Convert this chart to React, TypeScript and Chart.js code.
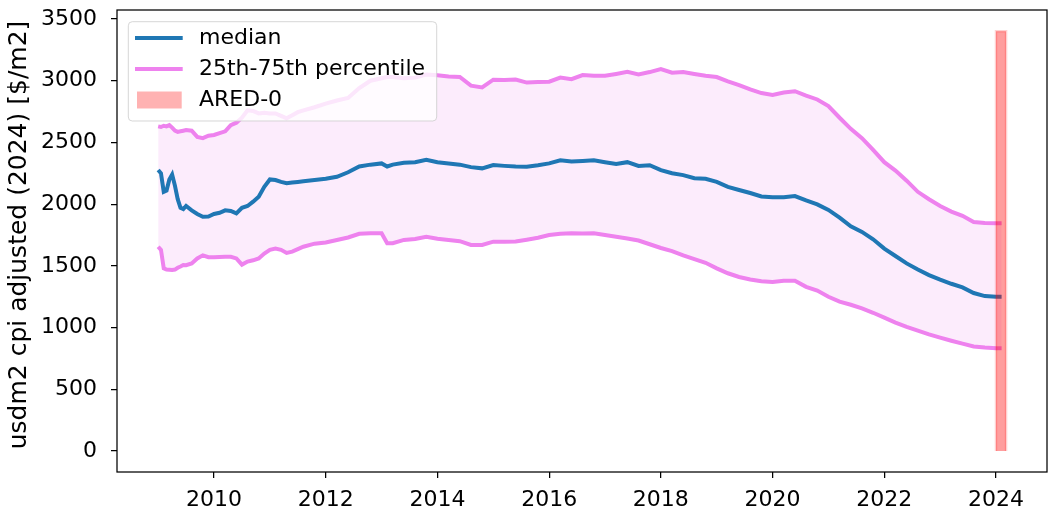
import React, { useEffect, useRef } from 'react';
import { Chart, registerables } from 'chart.js';

Chart.register(...registerables);

const FONT = '"DejaVu Sans", sans-serif';

const years = [
  2009.0, 2009.05, 2009.1, 2009.15, 2009.2, 2009.25, 2009.3, 2009.35, 2009.4, 2009.45,
  2009.5, 2009.6, 2009.7, 2009.8, 2009.9,
  2010.0, 2010.1, 2010.2, 2010.3, 2010.4, 2010.5, 2010.6, 2010.7, 2010.8, 2010.9,
  2011.0, 2011.1, 2011.2, 2011.3, 2011.4, 2011.5, 2011.6, 2011.8,
  2012.0, 2012.2, 2012.4, 2012.6, 2012.8,
  2013.0, 2013.1, 2013.2, 2013.4, 2013.6, 2013.8,
  2014.0, 2014.2, 2014.4, 2014.6, 2014.8,
  2015.0, 2015.2, 2015.4, 2015.6, 2015.8,
  2016.0, 2016.2, 2016.4, 2016.6, 2016.8,
  2017.0, 2017.2, 2017.4, 2017.6, 2017.8,
  2018.0, 2018.2, 2018.4, 2018.6, 2018.8,
  2019.0, 2019.2, 2019.4, 2019.6, 2019.8,
  2020.0, 2020.2, 2020.4, 2020.6, 2020.8,
  2021.0, 2021.2, 2021.4, 2021.6, 2021.8,
  2022.0, 2022.2, 2022.4, 2022.6, 2022.8,
  2023.0, 2023.2, 2023.4, 2023.6, 2023.8,
  2024.0, 2024.1,
];

const median = [
  2277, 2250, 2100, 2110, 2200, 2240, 2150, 2040, 1970, 1960,
  1985, 1950, 1920, 1898, 1900,
  1920, 1930, 1950, 1945, 1925, 1970, 1985, 2020, 2060, 2140,
  2200, 2195, 2180, 2169, 2175, 2180, 2185, 2195,
  2205, 2222, 2258, 2305, 2320,
  2330, 2305, 2320, 2335, 2340, 2360,
  2340, 2330, 2320, 2300, 2290,
  2317, 2310, 2305, 2303, 2315,
  2330, 2355, 2345, 2350, 2355,
  2340, 2325, 2340, 2310, 2315,
  2275, 2250, 2235, 2210, 2205,
  2180, 2140, 2115, 2090, 2062,
  2055, 2055, 2065, 2030, 1998,
  1953, 1890, 1820, 1775, 1715,
  1640, 1580, 1520, 1470, 1425,
  1388, 1355, 1325, 1280, 1255,
  1250, 1250,
];

const p75 = [
  2630, 2625, 2635, 2630, 2640, 2620, 2595, 2585, 2590, 2595,
  2600, 2595, 2545, 2535, 2555,
  2560, 2575, 2590, 2640, 2660, 2700, 2760, 2755, 2735, 2740,
  2735, 2735, 2715, 2695, 2720, 2745, 2760, 2785,
  2815, 2840, 2860, 2940, 3000,
  3020, 3030, 3030, 3020, 3025, 3050,
  3045, 3035, 3030, 2960, 2945,
  3008, 3005, 3010, 2985, 2990,
  2992, 3025, 3012, 3046, 3040,
  3040, 3055, 3072, 3050, 3070,
  3095, 3065, 3070, 3055, 3040,
  3030, 2995, 2965, 2930, 2900,
  2885, 2905, 2915, 2880, 2848,
  2795, 2700, 2610, 2535, 2440,
  2340, 2272, 2190, 2100, 2040,
  1985, 1940, 1905, 1855, 1848,
  1845, 1845,
];

const p25 = [
  1655, 1630, 1480, 1470, 1468, 1466, 1470, 1485, 1495, 1507,
  1505, 1520, 1560, 1585, 1570,
  1570, 1572, 1574, 1574, 1560, 1510, 1535, 1545, 1560, 1600,
  1630, 1640, 1630, 1605, 1615, 1635, 1655, 1680,
  1690, 1710, 1730, 1760, 1765,
  1764, 1683, 1683, 1710, 1718, 1735,
  1720, 1710, 1700, 1670, 1670,
  1696, 1695, 1698, 1712, 1728,
  1750, 1760, 1764, 1762, 1764,
  1750, 1736, 1722, 1705, 1675,
  1645, 1620, 1585, 1555, 1525,
  1480, 1440, 1410, 1390, 1375,
  1370, 1380, 1380, 1330, 1300,
  1250, 1210, 1185, 1155, 1120,
  1080, 1040, 1005, 975, 945,
  918, 893, 870, 847, 838,
  832, 832,
];

const aredStart = 2024.0;
const aredEnd = 2024.18;
const aredTop = 3400;

const xTicks = [2010, 2012, 2014, 2016, 2018, 2020, 2022, 2024];
const yTicks = [0, 500, 1000, 1500, 2000, 2500, 3000, 3500];
const seriesLabels = ['median', '25th-75th percentile', 'ARED-0'];
const yTitle = 'usdm2 cpi adjusted (2024) [$/m2]';

const MEDIAN_COLOR = '#1f77b4';
const PCT_COLOR = '#ee82ee';
const PCT_FILL = 'rgba(238,130,238,0.15)';
const ARED_FILL = 'rgba(255,0,0,0.3)';

const decorPlugin = {
  id: 'decor',
  afterDraw(chart: any) {
    const { ctx, chartArea: a } = chart;
    ctx.save();
    // frame
    ctx.strokeStyle = '#000';
    ctx.lineWidth = 1.25;
    ctx.strokeRect(a.left, a.top, a.right - a.left, a.bottom - a.top);

    // legend
    const bx = a.left + 11.3;
    const by = a.top + 11.7;
    const bw = 308.4;
    const bh = 99.3;
    const r = 4;
    ctx.beginPath();
    ctx.moveTo(bx + r, by);
    ctx.lineTo(bx + bw - r, by);
    ctx.quadraticCurveTo(bx + bw, by, bx + bw, by + r);
    ctx.lineTo(bx + bw, by + bh - r);
    ctx.quadraticCurveTo(bx + bw, by + bh, bx + bw - r, by + bh);
    ctx.lineTo(bx + r, by + bh);
    ctx.quadraticCurveTo(bx, by + bh, bx, by + bh - r);
    ctx.lineTo(bx, by + r);
    ctx.quadraticCurveTo(bx, by, bx + r, by);
    ctx.closePath();
    ctx.fillStyle = 'rgba(255,255,255,0.8)';
    ctx.fill();
    ctx.strokeStyle = 'rgba(204,204,204,0.8)';
    ctx.lineWidth = 1;
    ctx.stroke();

    const rows = [by + 16.3, by + 47.3, by + 78.3];
    const hx0 = bx + 6.7;
    const hx1 = bx + 54.4;
    ctx.lineWidth = 4;
    ctx.lineCap = 'butt';
    ctx.strokeStyle = MEDIAN_COLOR;
    ctx.beginPath();
    ctx.moveTo(hx0, rows[0]);
    ctx.lineTo(hx1, rows[0]);
    ctx.stroke();
    ctx.strokeStyle = PCT_COLOR;
    ctx.beginPath();
    ctx.moveTo(hx0, rows[1]);
    ctx.lineTo(hx1, rows[1]);
    ctx.stroke();
    ctx.fillStyle = ARED_FILL;
    ctx.fillRect(bx + 8.7, rows[2] - 8.5, 44.7, 17);

    ctx.fillStyle = '#000';
    ctx.font = '22px ' + FONT;
    ctx.textAlign = 'left';
    ctx.textBaseline = 'middle';
    seriesLabels.forEach((t, i) => ctx.fillText(t, bx + 70.7, rows[i]));

    // y title
    ctx.translate(19, 235);
    ctx.rotate(-Math.PI / 2);
    ctx.textAlign = 'center';
    ctx.textBaseline = 'middle';
    ctx.font = '25px ' + FONT;
    ctx.fillText(yTitle, 0, 0);
    ctx.restore();
  },
};

export default function App() {
  const ref = useRef<HTMLCanvasElement | null>(null);

  useEffect(() => {
    document.body.style.margin = '0';
    const canvas = ref.current;
    if (!canvas) return;
    const toXY = (vals: number[]) => years.map((x, i) => ({ x, y: vals[i] }));
    const chart = new Chart(canvas, {
      type: 'line',
      data: {
        datasets: [
          {
            label: seriesLabels[2],
            data: [
              { x: aredStart, y: 0 },
              { x: aredStart, y: aredTop },
              { x: aredEnd, y: aredTop },
              { x: aredEnd, y: 0 },
            ],
            borderColor: 'rgba(255,0,0,0.18)',
            borderWidth: 2.5,
            backgroundColor: 'rgba(255,0,0,0.38)',
            fill: 'origin',
            pointRadius: 0,
          },
          {
            label: seriesLabels[0],
            data: toXY(median),
            borderColor: MEDIAN_COLOR,
            borderWidth: 4,
            pointRadius: 0,
            fill: false,
          },
          {
            label: '25th percentile',
            data: toXY(p25),
            borderColor: PCT_COLOR,
            borderWidth: 4,
            pointRadius: 0,
            fill: false,
          },
          {
            label: seriesLabels[1],
            data: toXY(p75),
            borderColor: PCT_COLOR,
            borderWidth: 4,
            pointRadius: 0,
            backgroundColor: PCT_FILL,
            fill: '-1',
          },
        ],
      },
      options: {
        responsive: false,
        animation: false,
        layout: { padding: { top: 10, right: 9, left: 0, bottom: 0 } },
        plugins: { legend: { display: false }, tooltip: { enabled: false } },
        elements: { line: { tension: 0 }, point: { radius: 0 } },
        scales: {
          x: {
            type: 'linear',
            min: 2008.263,
            max: 2024.913,
            afterBuildTicks: (s: any) => {
              s.ticks = xTicks.map((v) => ({ value: v }));
            },
            afterFit: (s: any) => {
              s.height = 50;
              s.paddingLeft = 0;
              s.paddingRight = 0;
            },
            ticks: {
              autoSkip: false,
              maxRotation: 0,
              padding: 9,
              color: '#000',
              font: { family: FONT, size: 22 },
              callback: (v: any) => String(v),
            },
            grid: { drawOnChartArea: false, drawTicks: true, tickLength: 6, color: '#000', lineWidth: 1.25 },
            border: { display: false },
          },
          y: {
            type: 'linear',
            min: -170.1,
            max: 3572.9,
            afterBuildTicks: (s: any) => {
              s.ticks = yTicks.map((v) => ({ value: v }));
            },
            afterFit: (s: any) => {
              s.width = 117;
              s.paddingTop = 0;
              s.paddingBottom = 0;
            },
            ticks: {
              autoSkip: false,
              padding: 14,
              color: '#000',
              font: { family: FONT, size: 22 },
              callback: (v: any) => String(v),
            },
            grid: { drawOnChartArea: false, drawTicks: true, tickLength: 6, color: '#000', lineWidth: 1.25 },
            border: { display: false },
          },
        },
      },
      plugins: [decorPlugin],
    } as any);
    return () => chart.destroy();
  }, []);

  return (
    <div style={{ position: 'absolute', left: 0, top: 0, width: 1056, height: 522, background: '#fff' }}>
      <canvas ref={ref} width={1056} height={522} style={{ display: 'block', width: 1056, height: 522 }} />
    </div>
  );
}
